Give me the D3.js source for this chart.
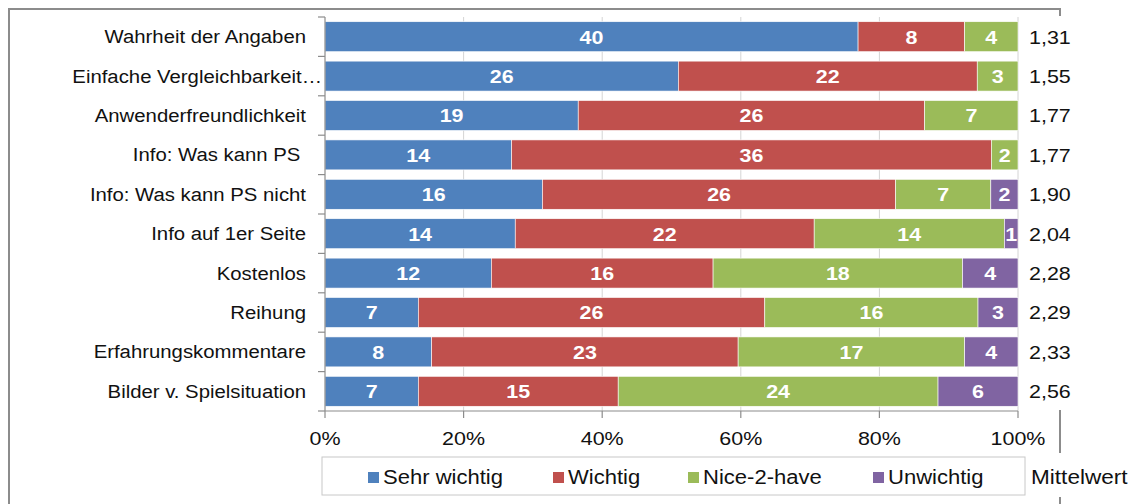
<!DOCTYPE html>
<html><head><meta charset="utf-8">
<script src="https://cdn.jsdelivr.net/npm/d3@7"></script>
<style>
html,body{margin:0;padding:0;background:#fff;}
svg text{font-family:"Liberation Sans",Arial,sans-serif;}
</style></head>
<body>
<svg id="chart" width="1138" height="504"></svg>
<script>
const categories = ["Wahrheit der Angaben","Einfache Vergleichbarkeit…","Anwenderfreundlichkeit","Info: Was kann PS ","Info: Was kann PS nicht","Info auf 1er Seite","Kostenlos","Reihung","Erfahrungskommentare","Bilder v. Spielsituation"];
const seriesNames = ["Sehr wichtig","Wichtig","Nice-2-have","Unwichtig"];
const sehrWichtig = [40,26,19,14,16,14,12,7,8,7];
const wichtig     = [8,22,26,36,26,22,16,26,23,15];
const nice2have   = [4,3,7,2,7,14,18,16,17,24];
const unwichtig   = [0,0,0,0,2,1,4,3,4,6];
const mittelwert  = ["1,31","1,55","1,77","1,77","1,90","2,04","2,28","2,29","2,33","2,56"];
const xTicks = [0,0.2,0.4,0.6,0.8,1.0];
const colors = ["#4F81BD","#C0504D","#9BBB59","#8064A2"];

(function(){
const svg = d3.select("#chart");
const FS = 19, SX = 1.13;
const pL = 325, pR = 1018, pT = 17, pB = 411;
const txt = "#111";

function label(parent, px, py, str, opts){
  opts = opts || {};
  const t = parent.append("text")
    .attr("transform", `translate(${px},${py}) scale(${SX},1)`)
    .attr("dy","0.36em")
    .attr("text-anchor", opts.anchor || "start")
    .attr("font-size", opts.size || FS)
    .attr("fill", opts.fill || txt)
    .style("white-space","pre")
    .text(str);
  if (opts.bold) t.attr("font-weight","bold");
  return t;
}

const frame = "#8c8c8c";
svg.append("path").attr("d","M9,504 L9,9 L1060,9 L1060,16").attr("fill","none").attr("stroke",frame).attr("stroke-width",2);
svg.append("path").attr("d","M1060,410 L1060,453 M1060,497 L1060,504").attr("fill","none").attr("stroke",frame).attr("stroke-width",2);

const y = d3.scaleBand().domain(categories).range([pT,pB]).paddingInner(0.24).paddingOuter(0.12);
const x = d3.scaleLinear().domain([0,1]).range([pL,pR]);

// gridlines
svg.append("g").selectAll("line").data(xTicks.slice(1)).join("line")
  .attr("x1",d=>x(d)).attr("x2",d=>x(d)).attr("y1",pT).attr("y2",pB)
  .attr("stroke","#d4d4d4").attr("stroke-width",1);

const rows = categories.map((c,i)=>{
  const vals=[sehrWichtig[i],wichtig[i],nice2have[i],unwichtig[i]];
  const tot=d3.sum(vals); let acc=0;
  return vals.map((v,k)=>{const s={cat:c,k,v,x0:acc/tot,x1:(acc+v)/tot}; acc+=v; return s;});
});

const g = svg.append("g");
rows.forEach(r=>{
  r.filter(s=>s.v>0).forEach(s=>{
    g.append("rect").attr("x",x(s.x0)).attr("y",y(s.cat)).attr("width",x(s.x1)-x(s.x0)).attr("height",y.bandwidth())
      .attr("fill",colors[s.k]).attr("stroke","#fff").attr("stroke-width",0.6);
    label(g,(x(s.x0)+x(s.x1))/2, y(s.cat)+y.bandwidth()/2, String(s.v), {anchor:"middle", fill:"#fff", bold:true});
  });
});

const yb = d3.scaleLinear().domain([0,categories.length]).range([pT,pB]);
const ax = svg.append("g").attr("stroke","#8c8c8c").attr("stroke-width",1.2);
ax.append("line").attr("x1",pL).attr("x2",pL).attr("y1",pT).attr("y2",pB);
d3.range(categories.length+1).forEach(i=>{
  ax.append("line").attr("x1",pL-7).attr("x2",pL).attr("y1",yb(i)).attr("y2",yb(i));
});
ax.append("line").attr("x1",pL).attr("x2",pR).attr("y1",pB).attr("y2",pB);
xTicks.forEach(t=>{
  ax.append("line").attr("x1",x(t)).attr("x2",x(t)).attr("y1",pB).attr("y2",pB+7);
});
const fmt = d3.format(".0%");
xTicks.forEach(t=> label(svg, x(t), 438, fmt(t), {anchor:"middle"}));
categories.forEach(c=>{
  const truncated = c.endsWith("…");
  label(svg, truncated ? pL-3 : 306, y(c)+y.bandwidth()/2, c, {anchor:"end", size:FS-1});
});
categories.forEach((c,i)=> label(svg, 1029, y(c)+y.bandwidth()/2, mittelwert[i]));

svg.append("rect").attr("x",322).attr("y",457).attr("width",703).attr("height",38).attr("fill","#fff").attr("stroke","#c8c8c8").attr("stroke-width",1);
const legX = [368,553,688,873];
seriesNames.forEach((n,k)=>{
  svg.append("rect").attr("x",legX[k]).attr("y",472).attr("width",11).attr("height",11).attr("fill",colors[k]);
  label(svg, legX[k]+15, 477, n, {size:19.5});
});
label(svg, 1031, 477, "Mittelwert", {size:20});
})();
</script>
</body></html>
